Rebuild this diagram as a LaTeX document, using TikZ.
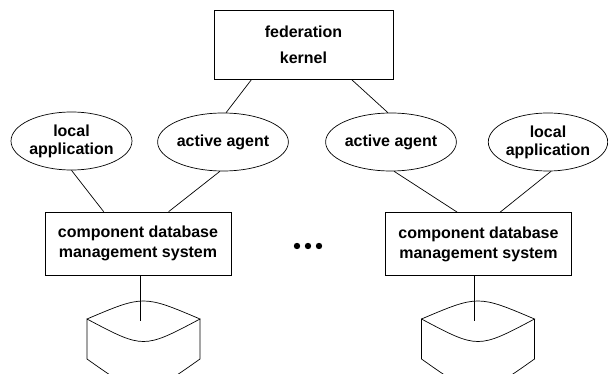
\documentclass[tikz,border=0pt]{standalone}
\usepackage{fontspec}
\setmainfont{Liberation Sans}
\usetikzlibrary{shapes.geometric}
\begin{document}
\begin{tikzpicture}[x=1pt,y=-1pt,line width=0.7pt,
	every node/.style={font=\bfseries\fontsize{16}{18}\selectfont,align=center,inner sep=0pt},
	box/.style={draw,rectangle,minimum width=186pt,minimum height=63pt},
	oval/.style={draw,ellipse,minimum width=121pt,minimum height=58pt}]
      \useasboundingbox (0,0) rectangle (608,374);
      \node [box,minimum width=179pt,minimum height=69pt] (kernel) at (303.5,44.5)
        {federation\\[8pt]kernel};
      \node [oval] (lapp1) at (71.5,141) {\fontsize{16}{16}\selectfont local\\application};
      \node [oval] (agent1) at (223,142) {active agent};
      \node [oval] (agent2) at (391,142) {active agent};
      \node [oval,minimum width=119pt] (lapp2) at (548,142) {\fontsize{16}{16}\selectfont local\\application};
      \node [box] (cdbms1) at (138,243.5) {component database\\[2pt]management system};
      \node [box] (cdbms2) at (478.5,244) {component database\\[2pt]management system};
      \coordinate (db1) at (140,321);
      \coordinate (db2) at (474,321);

      \draw ([xshift=38pt]kernel.south west) -- (agent1.84);
      \draw ([xshift=-42pt]kernel.south east) -- (agent2.96);
      \draw (lapp1.south) -- ([xshift=59pt]cdbms1.north west);
      \draw (agent1.-96) -- ([xshift=124pt]cdbms1.north west);
      \draw (agent2.-84) -- ([xshift=72pt]cdbms2.north west);
      \draw (lapp2.-84) -- ([xshift=115pt]cdbms2.north west);
      \draw (cdbms1.south -| db1) -- (db1);
      \draw (cdbms2.south -| db2) -- (db2);

      \foreach \c in {143.5,478} {
        \draw (\c-56.5,319) .. controls (\c,295) .. (\c+56.5,319)
          .. controls (\c,349) .. (\c-56.5,319) -- (\c-56.5,359)
          .. controls (\c,399) .. (\c+56.5,359) -- (\c+56.5,319);
      }
      \foreach \x in {297,308,319}
        \fill (\x,246) circle (3.2pt);
    \end{tikzpicture}
\end{document}
